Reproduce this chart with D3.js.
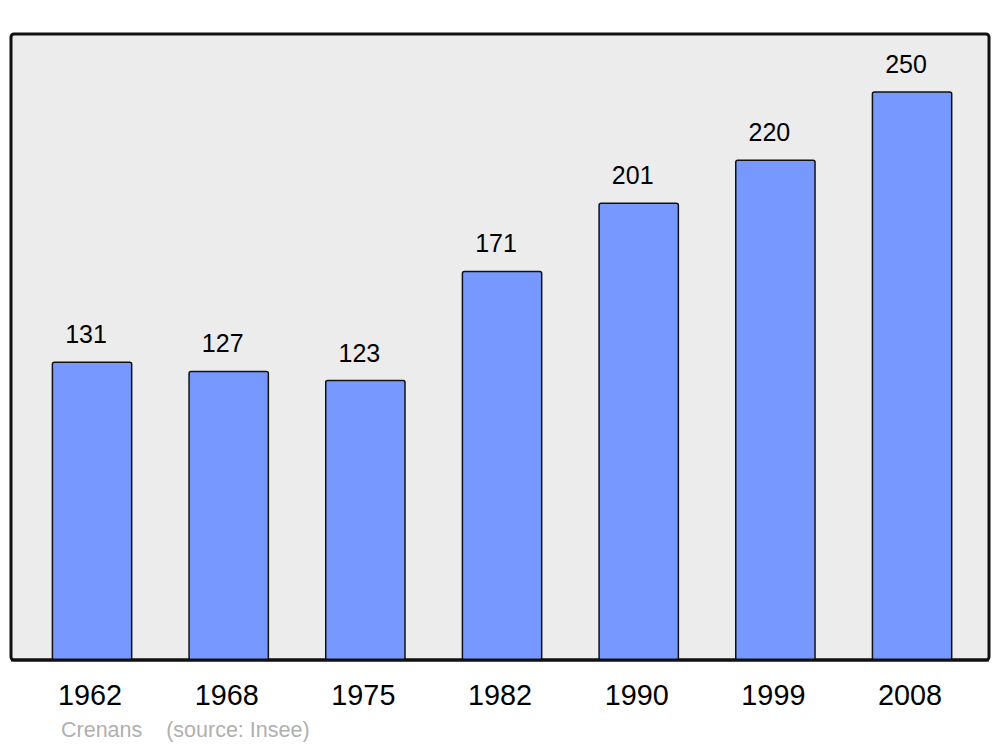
<!DOCTYPE html>
<html><head><meta charset="utf-8">
<script src="https://cdn.jsdelivr.net/npm/d3@7/dist/d3.min.js"></script>
<style>body{margin:0;background:#fff;}svg{display:block;}</style>
</head><body>
<script>
const years = ["1962","1968","1975","1982","1990","1999","2008"];
const population = [131,127,123,171,201,220,250];
const commune = "Crenans";
const sourceText = "(source: Insee)";

const W = 1000, H = 747;
const svg = d3.select("body").append("svg").attr("width", W).attr("height", H);
const font = "Liberation Sans, Arial, sans-serif";

const panel = {x0: 11, y0: 34, x1: 989, y1: 660};
svg.append("rect").attr("x", panel.x0).attr("y", panel.y0)
  .attr("width", panel.x1 - panel.x0).attr("height", panel.y1 - panel.y0)
  .attr("rx", 3).attr("fill", "#ececec").attr("stroke", "#111").attr("stroke-width", 3);

const x = d3.scaleBand().domain(years).range([23.7, 980.4]).paddingInner(0.42).paddingOuter(0.21);
const y = d3.scaleLinear().domain([0, 250]).range([panel.y1, 92]);

svg.append("g").selectAll("rect").data(population).join("rect")
  .attr("x", (d,i) => x(years[i])).attr("y", d => y(d))
  .attr("width", x.bandwidth()).attr("height", d => panel.y1 - y(d))
  .attr("rx", 2).attr("fill", "#7799ff").attr("stroke", "#111").attr("stroke-width", 1.5);

svg.append("line").attr("x1", panel.x0).attr("x2", panel.x1).attr("y1", panel.y1).attr("y2", panel.y1)
  .attr("stroke", "#111").attr("stroke-width", 3);

svg.append("g").selectAll("text").data(population).join("text")
  .attr("x", (d,i) => x(years[i]) + x.bandwidth()/2 - 6).attr("y", d => y(d) - 19)
  .attr("text-anchor", "middle").attr("font-family", font).attr("font-size", 25)
  .attr("fill", "#000").text(d => d);

svg.append("g").selectAll("text").data(years).join("text")
  .attr("x", d => x(d) + x.bandwidth()/2 - 2).attr("y", 705)
  .attr("text-anchor", "middle").attr("font-family", font).attr("font-size", 28.8)
  .attr("fill", "#000").text(d => d);

svg.append("text").attr("x", 61).attr("y", 737).attr("font-family", font).attr("font-size", 21.5)
  .attr("fill", "#b0b0b0").attr("xml:space", "preserve").text(commune + "    " + sourceText);
</script>
</body></html>
